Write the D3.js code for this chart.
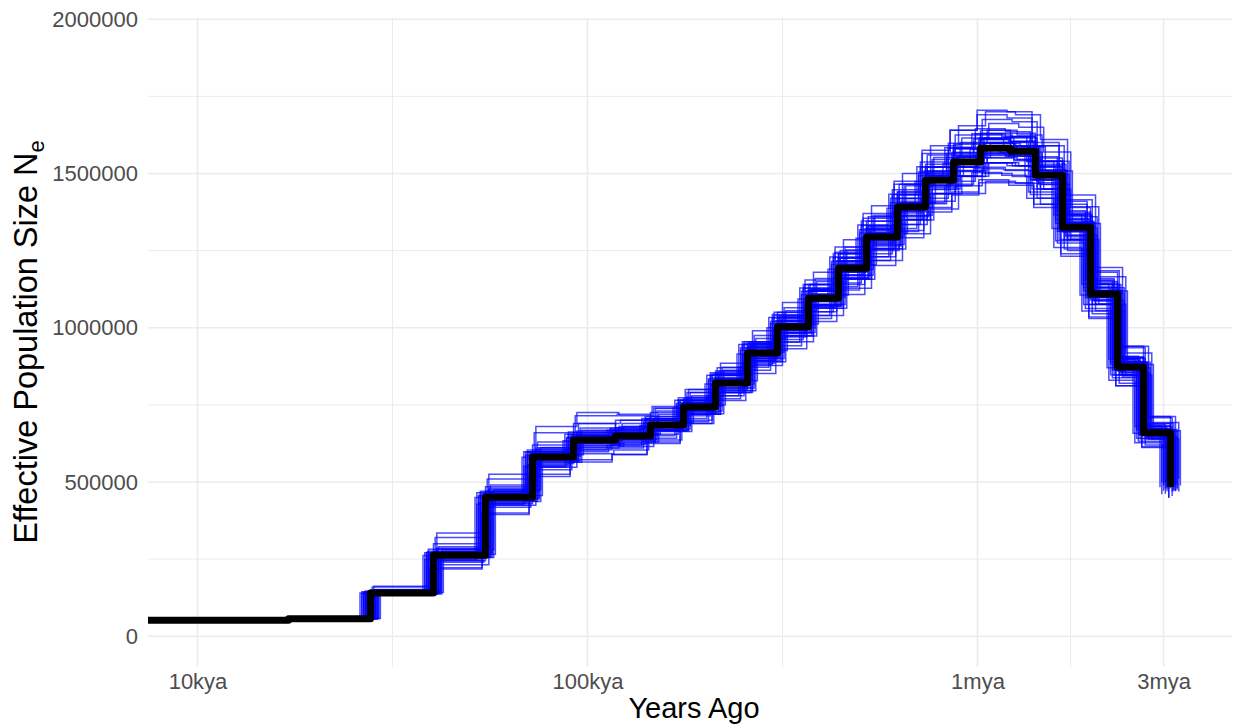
<!DOCTYPE html>
<html>
<head>
<meta charset="utf-8">
<script src="https://cdn.jsdelivr.net/npm/d3@7"></script>
<style>
	body { margin: 0; background: #fff; }
	svg { display: block; font-family: 'Liberation Sans', Arial, Helvetica, sans-serif; }
	.grid { stroke: #ebebeb; fill: none; }
	.tick text { fill: #4d4d4d; font-size: 22px; }
	.axis-title { fill: #000; }
</style>
</head>
<body>
<svg id="chart"></svg>
<script>
// x breaks (years ago) and labels
let xBreaks = [1e4, 1e5, 1e6, 3e6];
let xLabels = ['10kya', '100kya', '1mya', '3mya'];
let xMinor = [31623, 316228, 1732051];

// y breaks
let yBreaks = [0, 500000, 1000000, 1500000, 2000000];
let yMinor = [250000, 750000, 1250000, 1750000];

// main PSMC estimate: start time of each interval (years) and Ne
let mainTime = [7000, 17110, 27770, 40280, 54760, 72280, 92080, 117980, 145000, 176300, 212900, 257200, 307000, 368600, 440100, 519300, 623500, 735800, 868000, 1018000, 1215000, 1408000, 1652000, 1949000, 2286000, 2665000, 3125000];
let mainNe = [52000, 57000, 140000, 263000, 451000, 581000, 636000, 649000, 685000, 743000, 821000, 918000, 1003000, 1096000, 1193000, 1294000, 1391000, 1478000, 1537000, 1582000, 1572000, 1494000, 1326000, 1109000, 873000, 660000, 484000];

// bootstrap replicates: time scaling of each replicate, and Ne in thousands
let bootScale = [1.00, 0.97, 1.03, 0.99, 1.02, 0.96, 1.04, 1.01, 0.98, 1.05, 0.95, 1.00, 1.02, 0.98, 1.01, 0.97, 1.03, 1.00, 0.99, 1.04, 0.96, 1.02, 0.98, 1.01, 0.99, 1.06, 0.94, 1.00, 1.02, 0.97,
	1.03, 0.97, 1.05, 0.95, 1.02, 0.98, 1.00, 1.01, 0.99, 1.04, 0.96, 1.02, 0.98, 1.03, 1.00];
let bootNe = [
	[52, 58, 146, 275, 470, 600, 660, 676, 712, 770, 852, 950, 1040, 1140, 1240, 1345, 1440, 1530, 1595, 1640, 1630, 1550, 1375, 1150, 905, 690, 505],
	[52, 57, 138, 250, 432, 556, 612, 622, 655, 715, 790, 880, 962, 1052, 1145, 1240, 1335, 1420, 1475, 1520, 1510, 1432, 1275, 1062, 838, 632, 462],
	[52, 60, 152, 290, 490, 630, 690, 700, 738, 800, 885, 990, 1082, 1180, 1285, 1395, 1500, 1590, 1655, 1700, 1690, 1610, 1430, 1195, 940, 712, 525],
	[52, 56, 137, 240, 418, 540, 592, 604, 636, 690, 764, 852, 932, 1020, 1108, 1202, 1292, 1375, 1430, 1470, 1462, 1390, 1232, 1030, 812, 614, 450],
	[52, 58, 144, 268, 462, 575, 650, 660, 690, 752, 835, 925, 1015, 1110, 1205, 1310, 1400, 1490, 1555, 1600, 1585, 1510, 1340, 1120, 885, 668, 492],
	[52, 57, 142, 272, 455, 598, 645, 662, 700, 755, 835, 935, 1020, 1118, 1215, 1318, 1420, 1505, 1565, 1612, 1600, 1522, 1350, 1130, 890, 672, 495],
	[52, 57, 140, 258, 445, 570, 625, 638, 672, 730, 805, 900, 985, 1075, 1170, 1270, 1365, 1450, 1508, 1552, 1545, 1465, 1300, 1088, 855, 648, 475],
	[52, 62, 160, 320, 510, 660, 715, 720, 745, 800, 870, 955, 1035, 1125, 1225, 1330, 1430, 1520, 1580, 1625, 1615, 1540, 1365, 1140, 900, 680, 498],
	[52, 56, 136, 222, 400, 525, 572, 590, 625, 690, 780, 885, 975, 1065, 1160, 1255, 1350, 1435, 1492, 1535, 1525, 1450, 1286, 1075, 846, 640, 470],
	[52, 59, 148, 280, 475, 612, 668, 680, 720, 780, 862, 965, 1055, 1150, 1252, 1360, 1460, 1552, 1615, 1662, 1650, 1570, 1392, 1165, 918, 693, 510],
	[52, 56, 138, 248, 428, 552, 604, 618, 650, 706, 780, 872, 953, 1040, 1133, 1230, 1322, 1405, 1460, 1503, 1494, 1420, 1260, 1054, 830, 627, 460],
	[52, 58, 143, 300, 430, 620, 630, 700, 670, 760, 800, 940, 990, 1120, 1180, 1320, 1380, 1500, 1520, 1610, 1560, 1520, 1310, 1130, 860, 680, 480],
	[52, 57, 141, 232, 480, 548, 660, 615, 705, 725, 845, 895, 1025, 1070, 1210, 1265, 1405, 1455, 1555, 1560, 1590, 1470, 1345, 1090, 890, 645, 492],
	[52, 58, 145, 270, 462, 598, 652, 668, 705, 765, 848, 948, 1040, 1140, 1245, 1355, 1465, 1565, 1640, 1705, 1700, 1600, 1410, 1160, 900, 675, 495],
	[52, 57, 140, 265, 455, 585, 640, 652, 688, 745, 818, 905, 985, 1070, 1160, 1250, 1335, 1410, 1460, 1500, 1490, 1420, 1255, 1045, 820, 620, 455],
	[52, 58, 145, 282, 466, 596, 655, 670, 706, 765, 845, 945, 1032, 1128, 1228, 1332, 1432, 1520, 1582, 1628, 1618, 1538, 1365, 1142, 898, 680, 498],
	[52, 57, 139, 255, 438, 565, 618, 630, 665, 720, 797, 890, 973, 1063, 1157, 1255, 1350, 1434, 1490, 1535, 1525, 1450, 1286, 1076, 847, 640, 470],
	[52, 58, 143, 268, 460, 592, 648, 662, 698, 758, 837, 936, 1023, 1118, 1217, 1320, 1419, 1508, 1568, 1614, 1603, 1524, 1352, 1131, 890, 673, 494],
	[52, 57, 141, 260, 447, 575, 630, 643, 678, 736, 813, 909, 993, 1085, 1181, 1281, 1377, 1463, 1522, 1566, 1556, 1479, 1313, 1098, 864, 653, 479],
	[52, 58, 144, 272, 470, 610, 675, 690, 730, 790, 872, 975, 1065, 1160, 1262, 1365, 1465, 1545, 1600, 1640, 1625, 1540, 1360, 1130, 888, 670, 492],
	[52, 57, 139, 255, 432, 548, 598, 610, 642, 695, 770, 862, 942, 1030, 1122, 1218, 1312, 1402, 1465, 1515, 1512, 1440, 1282, 1075, 848, 642, 472],
	[52, 63, 162, 335, 525, 680, 725, 715, 740, 790, 860, 950, 1030, 1120, 1215, 1315, 1410, 1498, 1558, 1600, 1590, 1512, 1342, 1122, 882, 667, 490],
	[52, 56, 137, 218, 395, 518, 565, 588, 630, 700, 790, 895, 982, 1075, 1172, 1275, 1372, 1460, 1520, 1565, 1558, 1480, 1313, 1098, 864, 652, 478],
	[52, 57, 141, 264, 452, 582, 638, 652, 690, 752, 835, 940, 1035, 1140, 1250, 1360, 1465, 1560, 1625, 1675, 1668, 1590, 1415, 1185, 935, 708, 520],
	[52, 57, 140, 262, 450, 578, 632, 645, 678, 733, 805, 893, 970, 1052, 1140, 1230, 1315, 1390, 1440, 1480, 1470, 1400, 1240, 1035, 812, 612, 448],
	[52, 58, 142, 266, 456, 588, 642, 656, 692, 750, 828, 926, 1012, 1106, 1204, 1306, 1404, 1492, 1552, 1597, 1587, 1508, 1338, 1119, 881, 666, 489],
	[52, 57, 140, 262, 450, 580, 634, 647, 683, 740, 818, 915, 1000, 1093, 1190, 1290, 1387, 1474, 1533, 1578, 1568, 1490, 1322, 1106, 870, 658, 483],
	[52, 59, 150, 245, 485, 560, 690, 640, 725, 720, 860, 900, 1050, 1075, 1240, 1275, 1440, 1460, 1580, 1560, 1620, 1480, 1370, 1090, 905, 650, 500],
	[52, 57, 138, 285, 425, 605, 610, 680, 665, 775, 790, 945, 975, 1125, 1160, 1325, 1360, 1505, 1510, 1615, 1545, 1530, 1295, 1140, 850, 690, 470],
	[52, 58, 146, 276, 470, 604, 662, 675, 712, 773, 854, 955, 1043, 1140, 1241, 1346, 1447, 1537, 1598, 1645, 1635, 1554, 1379, 1153, 908, 686, 503],
	[52, 58, 142, 266, 456, 587, 642, 655, 692, 750, 829, 927, 1013, 1107, 1205, 1307, 1405, 1493, 1552, 1598, 1588, 1509, 1339, 1120, 882, 667, 489],
	[52, 57, 139, 260, 446, 575, 630, 643, 678, 736, 813, 909, 993, 1085, 1181, 1281, 1377, 1463, 1522, 1566, 1556, 1479, 1313, 1098, 864, 653, 479],
	[52, 57, 137, 255, 437, 564, 617, 630, 664, 721, 796, 890, 973, 1063, 1157, 1255, 1349, 1434, 1491, 1535, 1525, 1449, 1286, 1076, 847, 640, 469],
	[52, 58, 144, 271, 465, 598, 655, 668, 706, 765, 846, 946, 1033, 1129, 1229, 1333, 1433, 1522, 1583, 1629, 1619, 1539, 1366, 1142, 899, 680, 499],
	[52, 59, 150, 282, 475, 610, 665, 672, 700, 752, 826, 920, 1005, 1098, 1195, 1296, 1393, 1480, 1540, 1585, 1575, 1497, 1329, 1111, 875, 661, 485],
	[52, 56, 137, 245, 425, 552, 605, 625, 668, 732, 815, 915, 1001, 1095, 1192, 1293, 1390, 1477, 1536, 1580, 1570, 1492, 1324, 1107, 871, 659, 483],
	[52, 57, 140, 264, 452, 583, 638, 651, 688, 748, 830, 932, 1022, 1122, 1225, 1330, 1432, 1522, 1585, 1630, 1620, 1540, 1368, 1145, 902, 682, 500],
	[52, 57, 140, 262, 450, 580, 634, 646, 681, 737, 812, 905, 985, 1072, 1163, 1258, 1352, 1435, 1492, 1535, 1525, 1450, 1286, 1076, 847, 640, 469],
	[52, 58, 143, 268, 460, 593, 649, 662, 699, 758, 837, 936, 1023, 1118, 1217, 1320, 1419, 1508, 1568, 1614, 1603, 1524, 1353, 1131, 891, 673, 494],
	[52, 58, 141, 266, 449, 584, 633, 652, 682, 746, 818, 921, 1000, 1099, 1190, 1297, 1388, 1481, 1534, 1585, 1569, 1497, 1323, 1112, 870, 663, 481],
	[52, 58, 142, 266, 456, 587, 642, 655, 692, 750, 829, 927, 1013, 1107, 1205, 1307, 1405, 1493, 1552, 1598, 1588, 1509, 1339, 1120, 882, 667, 489],
	[52, 57, 138, 258, 442, 569, 623, 636, 671, 728, 805, 900, 983, 1074, 1169, 1268, 1363, 1448, 1506, 1550, 1541, 1464, 1300, 1087, 856, 647, 474],
	[52, 58, 142, 266, 458, 590, 646, 660, 700, 765, 850, 955, 1050, 1155, 1262, 1370, 1475, 1575, 1640, 1690, 1680, 1590, 1400, 1155, 895, 672, 490],
	[52, 57, 139, 260, 446, 574, 626, 636, 668, 720, 790, 878, 955, 1040, 1128, 1218, 1305, 1385, 1435, 1475, 1468, 1400, 1250, 1055, 840, 640, 472],
	[52, 57, 141, 265, 454, 585, 640, 653, 690, 748, 826, 924, 1010, 1104, 1202, 1305, 1405, 1495, 1560, 1610, 1605, 1540, 1390, 1180, 940, 712, 525]
];

let W = 1234, H = 725;
let panel = { left: 148, right: 1232, top: 18, bottom: 667 };

let svg = d3.select('#chart').attr('width', W).attr('height', H);

let x = d3.scaleLog().domain([1e4, 1e6]).range([197.5, 977.5]);
let y = d3.scaleLinear().domain([0, 2000000]).range([636.3, 19.2]);

// grid
let grid = svg.append('g');
grid.selectAll('.hminor').data(yMinor).enter().append('line')
	.attr('class', 'grid').attr('stroke-width', 1)
	.attr('x1', panel.left).attr('x2', panel.right)
	.attr('y1', d => y(d)).attr('y2', d => y(d));
grid.selectAll('.vminor').data(xMinor).enter().append('line')
	.attr('class', 'grid').attr('stroke-width', 1)
	.attr('y1', panel.top).attr('y2', panel.bottom)
	.attr('x1', d => x(d)).attr('x2', d => x(d));
grid.selectAll('.hmajor').data(yBreaks).enter().append('line')
	.attr('class', 'grid').attr('stroke-width', 1.6)
	.attr('x1', panel.left).attr('x2', panel.right)
	.attr('y1', d => y(d)).attr('y2', d => y(d));
grid.selectAll('.vmajor').data(xBreaks).enter().append('line')
	.attr('class', 'grid').attr('stroke-width', 1.6)
	.attr('y1', panel.top).attr('y2', panel.bottom)
	.attr('x1', d => x(d)).attr('x2', d => x(d));

svg.append('clipPath').attr('id', 'clip')
	.append('rect')
	.attr('x', panel.left).attr('y', 0)
	.attr('width', panel.right - panel.left).attr('height', panel.bottom);

let plot = svg.append('g').attr('clip-path', 'url(#clip)');

let step = d3.line()
	.x(d => x(d[0]))
	.y(d => y(d[1]))
	.curve(d3.curveStepAfter);

// bootstrap lines
plot.selectAll('.boot').data(bootNe).enter().append('path')
	.attr('class', 'boot')
	.attr('d', (ne, i) => step(ne.map((v, j) => [mainTime[j] * bootScale[i], v * 1000])))
	.attr('fill', 'none')
	.attr('stroke', '#0000ff')
	.attr('stroke-opacity', 0.7)
	.attr('stroke-width', 1.5);

// main estimate
plot.append('path')
	.attr('d', step(mainTime.map((t, j) => [t, mainNe[j]])))
	.attr('fill', 'none')
	.attr('stroke', '#000')
	.attr('stroke-width', 7)
	.attr('stroke-linejoin', 'round');

// axes
let yAxis = svg.append('g')
	.attr('transform', 'translate(' + panel.left + ',0)')
	.call(d3.axisLeft(y).tickValues(yBreaks).tickFormat(d3.format('d')).tickSize(0).tickPadding(10));
yAxis.select('.domain').remove();

let xAxis = svg.append('g')
	.attr('transform', 'translate(0,' + panel.bottom + ')')
	.call(d3.axisBottom(x).tickValues(xBreaks).tickFormat((d, i) => xLabels[i]).tickSize(0).tickPadding(6));
xAxis.select('.domain').remove();
svg.selectAll('.tick text').attr('font-family', null).attr('font-size', null);

// titles
svg.append('text')
	.attr('class', 'axis-title')
	.attr('x', (panel.left + panel.right) / 2 + 4)
	.attr('y', 718)
	.attr('text-anchor', 'middle')
	.style('font-size', '29px')
	.text('Years Ago');

let yTitle = svg.append('text')
	.attr('class', 'axis-title')
	.attr('transform', 'translate(37,342) rotate(-90)')
	.attr('text-anchor', 'middle')
	.style('font-size', '32.5px');
yTitle.append('tspan').text('Effective Population Size N');
yTitle.append('tspan').attr('dy', '0.3em').style('font-size', '22px').text('e');
</script>
</body>
</html>
